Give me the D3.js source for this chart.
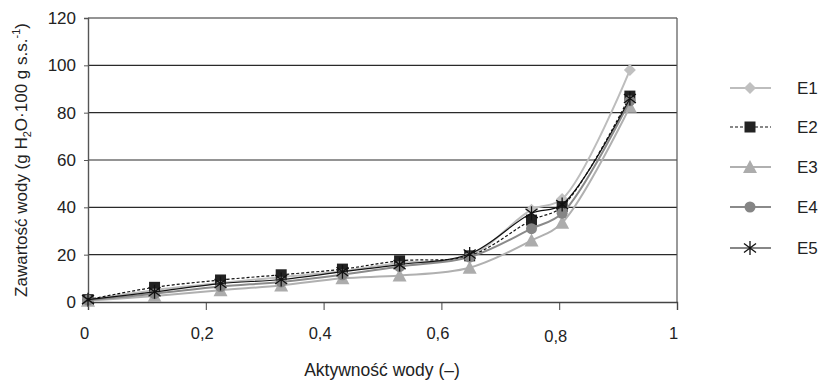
<!DOCTYPE html>
<html><head><meta charset="utf-8">
<script src="https://cdn.jsdelivr.net/npm/d3@7"></script>
<style>body{margin:0;background:#fff}svg{display:block;font-family:"Liberation Sans",Arial,sans-serif}</style>
</head><body><svg id="c" width="822" height="380"></svg>
<script>
const aw = [0, 0.113, 0.225, 0.328, 0.432, 0.529, 0.648, 0.753, 0.805, 0.92];
const E1 = [1, 5, 8, 10.5, 13, 16.5, 19.5, 39, 43.5, 98];
const E2 = [1, 6.2, 9.3, 11.5, 13.9, 17.4, 19.5, 34.6, 40.3, 87];
const E3 = [0.5, 2.5, 5, 7, 10, 11.2, 14.5, 26, 33.5, 82.5];
const E4 = [0.8, 3.5, 6.5, 8.5, 11.5, 15, 19, 31, 37.5, 85];
const E5 = [1, 4.3, 7.8, 9.5, 12.8, 15.8, 20.3, 37.5, 41.2, 86];
const seriesNames = ["E1", "E2", "E3", "E4", "E5"];
const xTicks = [0, 0.2, 0.4, 0.6, 0.8, 1];
const xTickLabels = ["0", "0,2", "0,4", "0,6", "0,8", "1"];
const yTicks = [0, 20, 40, 60, 80, 100, 120];

const series = [
  {name: "E1", values: E1, color: "#bdbdbd", dash: null, marker: "diamond", mfill: "#c0c0c0", width: 2},
  {name: "E2", values: E2, color: "#111", dash: "3,2", marker: "square", mfill: "#222", width: 1.2},
  {name: "E3", values: E3, color: "#b0b0b0", dash: null, marker: "triangle", mfill: "#acacac", width: 2},
  {name: "E4", values: E4, color: "#8a8a8a", dash: null, marker: "circle", mfill: "#858585", width: 2},
  {name: "E5", values: E5, color: "#111", dash: null, marker: "star", mfill: "#111", width: 1.2}
];

const FONT = "'Liberation Sans', Arial, sans-serif";
const svg = d3.select("#c");
const x = d3.scaleLinear().domain([0, 1]).range([88, 677]);
const y = d3.scaleLinear().domain([0, 120]).range([302, 18]);

// gridlines
svg.append("g").selectAll("line").data(yTicks.filter(d => d > 0)).join("line")
  .attr("x1", x(0)).attr("x2", x(1)).attr("y1", d => y(d)).attr("y2", d => y(d))
  .attr("stroke", "#2a2a2a").attr("stroke-width", 1.2);
// right border
svg.append("line").attr("x1", x(1)).attr("x2", x(1)).attr("y1", y(120)).attr("y2", y(0))
  .attr("stroke", "#555").attr("stroke-width", 1.2);

// y axis
const yAxis = d3.axisLeft(y).tickValues(yTicks).tickSize(4).tickPadding(8).tickFormat(d3.format("d"));
const gy = svg.append("g").attr("transform", `translate(${x(0)},0)`).call(yAxis)
  .attr("font-size", null).attr("font-family", null);
gy.select(".domain").attr("stroke", "#555").attr("stroke-width", 1.4);
gy.selectAll(".tick line").attr("stroke", "#555");
gy.selectAll("text").style("font-size", "17px").attr("fill", "#222").style("font-family", FONT);

// x axis
const xAxis = d3.axisBottom(x).tickValues(xTicks).tickSize(8).tickPadding(17).tickFormat((d, i) => xTickLabels[i]);
const gx = svg.append("g").attr("transform", `translate(0,${y(0)})`).call(xAxis)
  .attr("font-size", null).attr("font-family", null);
gx.select(".domain").attr("stroke", "#444").attr("stroke-width", 1.4);
gx.selectAll(".tick line").attr("stroke", "#444");
gx.selectAll("text").style("font-size", "16.5px").attr("fill", "#222").style("font-family", FONT)
  .attr("dx", -4).attr("y", (d, i) => xTickLabels[i] === "0,8" ? 40 : 37).attr("dy", "0");

// axis titles
svg.append("text").attr("x", 382).attr("y", 376).attr("text-anchor", "middle")
  .style("font-size", "17.5px").style("font-family", FONT).attr("fill", "#222").text("Aktywność wody (–)");
const yt = svg.append("text").attr("transform", "translate(27,160) rotate(-90)").attr("text-anchor", "middle")
  .style("font-size", "17px").style("font-family", FONT).attr("fill", "#222");
yt.append("tspan").text("Zawartość wody (g H");
yt.append("tspan").style("font-size", "11px").attr("dy", 4).text("2");
yt.append("tspan").attr("dy", -4).text("O·100 g s.s.");
yt.append("tspan").style("font-size", "11px").attr("dy", -7).text("-1");
yt.append("tspan").attr("dy", 7).text(")");

function drawMarker(g, type, fill) {
  if (type === "diamond") g.append("path").attr("d", "M0,-6L6,0L0,6L-6,0Z").attr("fill", fill);
  else if (type === "square") g.append("rect").attr("x", -5.5).attr("y", -5.5).attr("width", 11).attr("height", 11).attr("fill", fill);
  else if (type === "triangle") g.append("path").attr("d", "M0,-7L7,6L-7,6Z").attr("fill", fill);
  else if (type === "circle") g.append("circle").attr("r", 5.5).attr("fill", fill);
  else if (type === "star") g.append("path").attr("d", "M0,-7L0,7M-6,-4.5L6,4.5M-6,4.5L6,-4.5")
    .attr("stroke", fill).attr("stroke-width", 1.3).attr("fill", "none");
}

const line = d3.line().x((d, i) => x(aw[i])).y(d => y(d)).curve(d3.curveCatmullRom.alpha(0.5));

series.forEach(s => {
  const g = svg.append("g");
  g.append("path").attr("d", line(s.values)).attr("fill", "none").attr("stroke", s.color)
    .attr("stroke-width", s.width).attr("stroke-dasharray", s.dash);
  s.values.forEach((v, i) => {
    const m = g.append("g").attr("transform", `translate(${x(aw[i])},${y(v)})`);
    drawMarker(m, s.marker, s.mfill);
  });
});

// legend
const legY = [88, 127, 167, 207, 248];
series.forEach((s, i) => {
  const g = svg.append("g").attr("transform", `translate(0,${legY[i]})`);
  g.append("line").attr("x1", 730).attr("x2", 771).attr("y1", 0).attr("y2", 0)
    .attr("stroke", s.color).attr("stroke-width", s.width).attr("stroke-dasharray", s.dash);
  const m = g.append("g").attr("transform", "translate(750,0)");
  drawMarker(m, s.marker, s.mfill);
  g.append("text").attr("x", 797).attr("y", 0).attr("dy", "0.35em").style("font-size", "17px")
    .style("font-family", FONT).attr("fill", "#222").text(s.name);
});
</script></body></html>
